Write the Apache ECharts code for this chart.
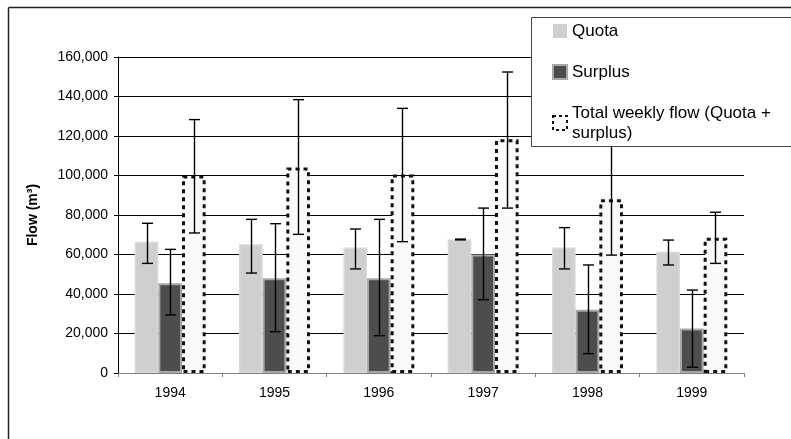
<!DOCTYPE html>
<html>
<head>
<meta charset="utf-8">
<script src="https://cdn.jsdelivr.net/npm/echarts@6/dist/echarts.min.js"></script>
<style>html,body{margin:0;padding:0;background:#fff;}#chart{width:791px;height:439px;}</style>
</head>
<body>
<div id="chart"></div>
<script>
const categories = ['1994', '1995', '1996', '1997', '1998', '1999'];
const yTicks = [0, 20000, 40000, 60000, 80000, 100000, 120000, 140000, 160000];

const quota = [66500, 65200, 63600, 67700, 63600, 61400];
const quotaLow = [55500, 50600, 52700, 67400, 52700, 54700];
const quotaHigh = [75800, 77800, 72900, 67800, 73600, 67300];

const surplus = [45500, 48000, 48000, 60000, 32000, 22500];
const surplusLow = [29400, 20900, 18900, 37100, 9800, 2900];
const surplusHigh = [62600, 75600, 77800, 83500, 54700, 42000];

const total = [100000, 104000, 100500, 118300, 88000, 68500];
const totalLow = [70900, 70200, 66500, 83500, 59700, 55500];
const totalHigh = [128300, 138400, 134000, 152400, 116000, 81400];

const seriesNames = ['Quota', 'Surplus', 'Total weekly flow (Quota + surplus)'];
const FONT = 'Liberation Sans, Arial, sans-serif';
const CAT_GAP = 0.32;

function errData(lo, hi) {
  return categories.map((c, i) => [i, lo[i], hi[i]]);
}

function errSeries(k, lo, hi) {
  return {
    type: 'custom',
    name: seriesNames[k] + ' error',
    z: 3,
    silent: true,
    data: errData(lo, hi),
    encode: { x: 0, y: [1, 2] },
    renderItem: function (params, api) {
      const idx = api.value(0);
      const pLo = api.coord([idx, api.value(1)]);
      const pHi = api.coord([idx, api.value(2)]);
      const band = api.size([1, 0])[0];
      const w = band * (1 - CAT_GAP) / 3;
      const x = Math.round(pLo[0] + (k - 1) * w) + 0.5;
      const cap = 5.5;
      const st = { stroke: '#000', lineWidth: 1.4 };
      return {
        type: 'group',
        children: [
          { type: 'line', shape: { x1: x, y1: pLo[1], x2: x, y2: pHi[1] }, style: st },
          { type: 'line', shape: { x1: x - cap, y1: pLo[1], x2: x + cap, y2: pLo[1] }, style: st },
          { type: 'line', shape: { x1: x - cap, y1: pHi[1], x2: x + cap, y2: pHi[1] }, style: st }
        ]
      };
    }
  };
}

const chart = echarts.init(document.getElementById('chart'));
chart.setOption({
  animation: false,
  backgroundColor: '#fff',
  textStyle: { fontFamily: FONT },
  grid: { left: 118, right: 47, top: 57, bottom: 66 },
  xAxis: {
    type: 'category',
    data: categories,
    axisLine: { show: true, lineStyle: { color: '#808080', width: 1 } },
    axisTick: { show: true, length: 4, lineStyle: { color: '#808080' } },
    axisLabel: { color: '#000', fontSize: 14, fontFamily: FONT, margin: 13 },
    splitLine: { show: false }
  },
  yAxis: {
    type: 'value',
    min: yTicks[0],
    max: yTicks[yTicks.length - 1],
    interval: yTicks[1] - yTicks[0],
    name: 'Flow (m³)',
    nameLocation: 'middle',
    nameRotate: 90,
    nameGap: 78,
    nameTextStyle: { color: '#000', fontSize: 14, fontWeight: 'bold', fontFamily: FONT },
    axisLine: { show: true, lineStyle: { color: '#000', width: 1 } },
    axisTick: { show: true, length: 4, lineStyle: { color: '#000' } },
    axisLabel: {
      color: '#000', fontSize: 14, fontFamily: FONT, margin: 10,
      formatter: v => v.toLocaleString('en-US')
    },
    splitLine: { show: true, lineStyle: { color: '#000', width: 1 } }
  },
  legend: {
    orient: 'vertical',
    left: 547,
    top: 16,
    z: 10,
    icon: 'rect',
    itemWidth: 14,
    itemHeight: 14,
    itemGap: 21,
    selectedMode: false,
    data: [
      { name: seriesNames[0], itemStyle: { color: '#cfcfcf', borderWidth: 0 } },
      { name: seriesNames[1], itemStyle: { color: '#4d4d4d', borderColor: '#a8a8a8', borderWidth: 2 } },
      { name: seriesNames[2], itemStyle: { color: '#fafafa', borderColor: '#111', borderWidth: 2, borderType: [3, 3] } }
    ],
    formatter: n => n === seriesNames[2] ? 'Total weekly flow (Quota +\nsurplus)' : n,
    textStyle: { color: '#000', fontSize: 17, fontFamily: FONT, lineHeight: 20 }
  },
  graphic: [
    { type: 'line', z: 1, shape: { x1: 8.5, y1: 7.5, x2: 8.5, y2: 439 }, style: { stroke: '#222', lineWidth: 1.5 } },
    { type: 'line', z: 1, shape: { x1: 8.5, y1: 7.5, x2: 791, y2: 7.5 }, style: { stroke: '#222', lineWidth: 1.5 } },
    { type: 'rect', z: 8, shape: { x: 531.5, y: 17.5, width: 300, height: 129 }, style: { fill: '#fff', stroke: '#444', lineWidth: 1 } }
  ],
  series: [
    {
      type: 'bar', name: seriesNames[0], data: quota,
      barGap: '0%', barCategoryGap: (CAT_GAP * 100) + '%',
      itemStyle: { color: '#cfcfcf', borderColor: '#d9d9d9', borderWidth: 1.5 }
    },
    {
      type: 'bar', name: seriesNames[1], data: surplus,
      itemStyle: { color: '#4d4d4d', borderColor: '#a8a8a8', borderWidth: 2 }
    },
    {
      type: 'bar', name: seriesNames[2], data: total,
      itemStyle: { color: '#fafafa', borderColor: '#111', borderWidth: 3, borderType: [4, 4] }
    },
    errSeries(0, quotaLow, quotaHigh),
    errSeries(1, surplusLow, surplusHigh),
    errSeries(2, totalLow, totalHigh)
  ]
});
</script>
</body>
</html>
